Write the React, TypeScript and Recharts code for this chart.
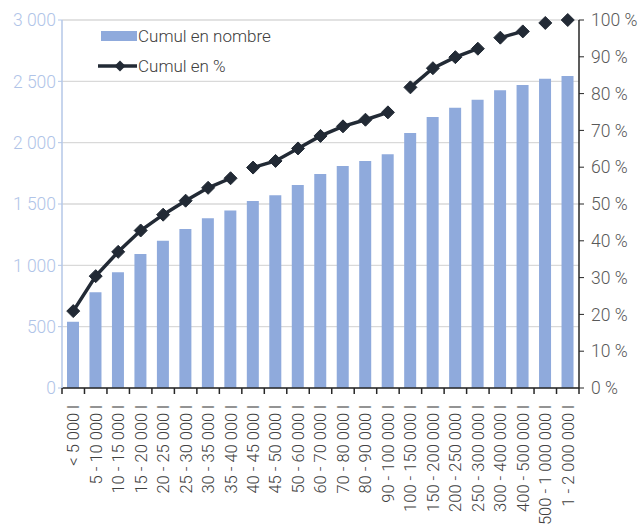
import React from 'react';
import {
  ComposedChart, Bar, Line, XAxis, YAxis, CartesianGrid,
} from 'recharts';

const categories = [
  '< 5 000 l', '5 - 10 000 l', '10 - 15 000 l', '15 - 20 000 l', '20 - 25 000 l',
  '25 - 30 000 l', '30 - 35 000 l', '35 - 40 000 l', '40 - 45 000 l', '45 - 50 000 l',
  '50 - 60 000 l', '60 - 70 000 l', '70 - 80 000 l', '80 - 90 000 l', '90 - 100 000 l',
  '100 - 150 000 l', '150 - 200 000 l', '200 - 250 000 l', '250 - 300 000 l',
  '300 - 400 000 l', '400 - 500 000 l', '500 - 1 000 000 l', '1 - 2 000 000 l',
];

const cumulNombre = [
  540, 780, 943, 1092, 1201, 1296, 1383, 1448, 1524, 1571, 1655, 1745, 1810, 1851,
  1905, 2079, 2209, 2285, 2350, 2427, 2470, 2522, 2543,
];

const cumulPct = [
  20.9, 30.4, 37.0, 42.8, 47.1, 50.9, 54.4, 57.0, 59.9, 61.7, 65.1, 68.5, 71.1,
  72.9, 74.9, 81.7, 86.9, 89.9, 92.2, 95.2, 96.9, 99.2, 100,
];

// line segment each point belongs to (the reference line is broken between groups)
const segmentOf = [0, 0, 0, 0, 0, 0, 0, 0, 1, 1, 1, 1, 1, 1, 1, 2, 2, 2, 2, 3, 3, 4, 5];
const segmentCount = 6;

const leftTicks = [0, 500, 1000, 1500, 2000, 2500, 3000];
const rightTicks = [0, 10, 20, 30, 40, 50, 60, 70, 80, 90, 100];

const seriesNames = ['Cumul en nombre', 'Cumul en %'];

const data = categories.map((c, i) => {
  const row: Record<string, any> = { cat: c, nombre: cumulNombre[i] };
  for (let s = 0; s < segmentCount; s++) {
    row['p' + s] = segmentOf[i] === s ? cumulPct[i] : null;
  }
  return row;
});

const FONT = 'Roboto, "DejaVu Sans", sans-serif';
const BAR_COLOR = '#8faadc';
const LINE_COLOR = '#222a35';
const TEXT_COLOR = '#404040';

const fmtThousands = (v: number) => {
  const s = String(v);
  return s.length > 3 ? s.slice(0, s.length - 3) + ' ' + s.slice(-3) : s;
};

const Diamond = (props: any) => {
  const { cx, cy, value, index } = props;
  if (cx == null || cy == null || value == null) return <g key={'d' + index} />;
  const r = 6.5;
  return (
    <path
      key={'d' + index}
      d={`M${cx},${cy - r}L${cx + r},${cy}L${cx},${cy + r}L${cx - r},${cy}Z`}
      fill={LINE_COLOR}
      stroke={LINE_COLOR}
      strokeWidth={1}
    />
  );
};

const XTick = (props: any) => {
  const { x, y, payload, index, visibleTicksCount } = props;
  const half = payload && payload.offset ? payload.offset : 11.24;
  const axisY = y - 8;
  const isLast = index === (visibleTicksCount ?? categories.length) - 1;
  return (
    <g>
      <line x1={x - half} y1={axisY} x2={x - half} y2={axisY + 6} stroke="#262626" strokeWidth={1.5} />
      {isLast && (
        <line x1={x + half} y1={axisY} x2={x + half} y2={axisY + 6} stroke="#262626" strokeWidth={1.5} />
      )}
      <text
        x={x}
        y={y + 9}
        transform={`rotate(-90 ${x} ${y + 9})`}
        textAnchor="end"
        dy="0.36em"
        fontSize={16.5}
        fontFamily={FONT}
        fontWeight={300}
        fill={TEXT_COLOR}
      >
        {payload.value}
      </text>
    </g>
  );
};

const LegendBox = () => (
  <div
    style={{
      position: 'absolute', left: 96, top: 24,
      fontFamily: FONT, fontWeight: 300, fontSize: 17, color: TEXT_COLOR, lineHeight: '20px',
    }}
  >
    <div style={{ display: 'flex', alignItems: 'center', height: 24 }}>
      <div style={{ width: 36, height: 10, background: BAR_COLOR, marginLeft: 5, marginRight: 1 }} />
      <span>{seriesNames[0]}</span>
    </div>
    <div style={{ display: 'flex', alignItems: 'center', height: 24, marginTop: 6 }}>
      <svg width={42} height={14} style={{ display: 'block' }}>
        <line x1={2} y1={7} x2={41} y2={7} stroke={LINE_COLOR} strokeWidth={3.5} />
        <path d="M24,1.5L29.5,7L24,12.5L18.5,7Z" fill={LINE_COLOR} />
      </svg>
      <span>{seriesNames[1]}</span>
    </div>
  </div>
);

export default function App() {
  const lines = [];
  for (let s = 0; s < segmentCount; s++) {
    lines.push(
      <Line
        key={'p' + s}
        yAxisId="right"
        dataKey={'p' + s}
        name={seriesNames[1]}
        stroke={LINE_COLOR}
        strokeWidth={3.5}
        dot={Diamond}
        activeDot={false}
        connectNulls={false}
        legendType="none"
        isAnimationActive={false}
      />,
    );
  }
  return (
    <div style={{ position: 'absolute', left: 0, top: 0, width: 640, height: 530, background: '#fff' }}>
      <ComposedChart
        width={640}
        height={530}
        data={data}
        margin={{ top: 20, right: 0, bottom: 0, left: 0 }}
        barCategoryGap={0}
      >
        <CartesianGrid yAxisId="left" vertical={false} stroke="#d9d9d9" strokeWidth={1.3} />
        <XAxis
          dataKey="cat"
          interval={0}
          height={142}
          tickLine={false}
          tickSize={6}
          tickMargin={2}
          tick={<XTick />}
          axisLine={{ stroke: '#262626', strokeWidth: 1.5 }}
        />
        <YAxis
          yAxisId="left"
          orientation="left"
          width={62}
          domain={[0, 3000]}
          ticks={leftTicks}
          tickFormatter={fmtThousands}
          tickSize={4}
          tickMargin={2}
          axisLine={{ stroke: '#b4c7e7', strokeWidth: 1.5 }}
          tickLine={{ stroke: '#b4c7e7' }}
          tick={{ fill: '#b0c4e8', fontSize: 17.5, fontFamily: FONT, fontWeight: 300 }}
        />
        <YAxis
          yAxisId="right"
          orientation="right"
          width={61}
          domain={[0, 100]}
          ticks={rightTicks}
          tickFormatter={(v: number) => `${v} %`}
          tickSize={5}
          tickMargin={7}
          axisLine={{ stroke: '#262626', strokeWidth: 1.5 }}
          tickLine={{ stroke: '#262626' }}
          tick={{ fill: '#595959', fontSize: 17.5, fontFamily: FONT, fontWeight: 300 }}
        />
        <Bar
          yAxisId="left"
          dataKey="nombre"
          name={seriesNames[0]}
          fill={BAR_COLOR}
          barSize={12}
          isAnimationActive={false}
        />
        {lines}
      </ComposedChart>
      <LegendBox />
    </div>
  );
}
